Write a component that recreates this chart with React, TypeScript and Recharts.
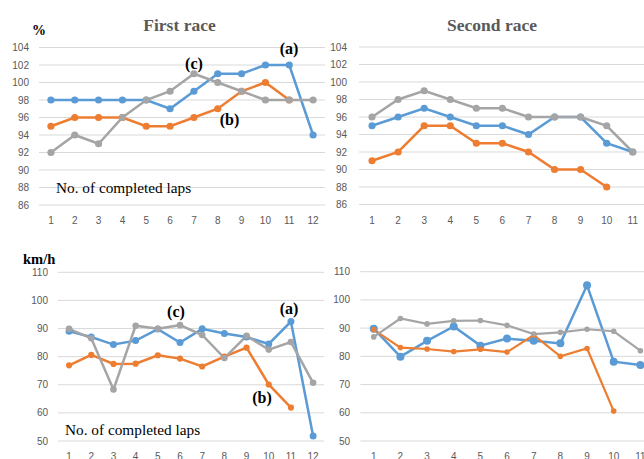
import { CartesianGrid, Line, LineChart, XAxis, YAxis } from "recharts"

const LAPS_FIRST = [1, 2, 3, 4, 5, 6, 7, 8, 9, 10, 11, 12]
const LAPS_SECOND = [1, 2, 3, 4, 5, 6, 7, 8, 9, 10, 11]
const PCT_TICKS = [86, 88, 90, 92, 94, 96, 98, 100, 102, 104]
const SPEED_TICKS = [50, 60, 70, 80, 90, 100, 110]

// (a) blue, (b) orange, (c) gray
const firstPctA = [98, 98, 98, 98, 98, 97, 99, 101, 101, 102, 102, 94]
const firstPctB = [95, 96, 96, 96, 95, 95, 96, 97, 99, 100, 98]
const firstPctC = [92, 94, 93, 96, 98, 99, 101, 100, 99, 98, 98, 98]
const secondPctA = [95, 96, 97, 96, 95, 95, 94, 96, 96, 93, 92]
const secondPctB = [91, 92, 95, 95, 93, 93, 92, 90, 90, 88]
const secondPctC = [96, 98, 99, 98, 97, 97, 96, 96, 96, 95, 92]
const firstSpeedA = [89, 87, 84.3, 85.7, 89.8, 85, 89.9, 88.2, 87, 84.5, 92.5, 51.8]
const firstSpeedB = [76.9, 80.6, 77.4, 77.5, 80.5, 79.3, 76.5, 80, 83.2, 70.1, 61.9]
const firstSpeedC = [89.9, 86.5, 68.3, 91, 89.9, 91.2, 87.7, 79.5, 87.4, 82.5, 85.2, 70.7]
const secondSpeedA = [89.8, 79.9, 85.5, 90.6, 83.8, 86.3, 85.5, 84.6, 105.2, 78.1, 76.9]
const secondSpeedB = [89.5, 83.1, 82.6, 81.7, 82.5, 81.5, 87.5, 80, 82.8, 60.6]
const secondSpeedC = [86.9, 93.4, 91.5, 92.6, 92.7, 91, 87.9, 88.5, 89.6, 88.9, 82]

const BLUE = "#5B9BD5"
const ORANGE = "#ED7D31"
const GRAY = "#A5A5A5"
const TICK = { fontSize: 10, fill: "#595959", fontFamily: "Liberation Sans, Arial, sans-serif" }

function rows(laps: number[], a: number[], b: number[], c: number[]) {
  return laps.map((lap, i) => ({ lap, a: a[i], b: b[i], c: c[i] }))
}

type PanelProps = {
  left: number
  top: number
  width: number
  height: number
  margin: { top: number; right: number; bottom: number; left: number }
  yWidth: number
  yMargin: number
  xHeight: number
  laps: number[]
  yTicks: number[]
  data: { lap: number; a?: number; b?: number; c?: number }[]
  dots: [number, number, number]
  widths: [number, number, number]
}

function Panel(p: PanelProps) {
  const colors = [BLUE, ORANGE, GRAY]
  const keys = ["a", "b", "c"]
  return (
    <div style={{ position: "absolute", left: p.left, top: p.top }}>
      <LineChart width={p.width} height={p.height} data={p.data} margin={p.margin}>
        <CartesianGrid vertical={false} stroke="#D9D9D9" />
        <XAxis
          type="number"
          dataKey="lap"
          domain={[0.5, p.laps.length + 0.5]}
          ticks={p.laps}
          interval={0}
          axisLine={false}
          tickLine={false}
          tickSize={0}
          tickMargin={12}
          height={p.xHeight}
          tick={TICK}
        />
        <YAxis
          domain={[p.yTicks[0], p.yTicks[p.yTicks.length - 1]]}
          ticks={p.yTicks}
          interval={0}
          axisLine={false}
          tickLine={false}
          tickSize={0}
          tickMargin={p.yMargin}
          width={p.yWidth}
          tick={TICK}
        />
        {keys.map((k, i) => (
          <Line
            key={k}
            type="linear"
            dataKey={k}
            stroke={colors[i]}
            strokeWidth={p.widths[i]}
            dot={{ r: p.dots[i], fill: colors[i], stroke: colors[i], strokeWidth: 0 }}
            activeDot={false}
            isAnimationActive={false}
          />
        ))}
      </LineChart>
    </div>
  )
}

const serif = "Liberation Serif, Times New Roman, serif"

export default function App() {
  return (
    <div
      style={{
        position: "absolute",
        left: 0,
        top: 0,
        width: 644,
        height: 459,
        overflow: "hidden",
        background: "#fff",
      }}
    >
      <Panel
        left={0}
        top={0}
        width={330}
        height={230}
        margin={{ top: 47.5, right: 5, bottom: 0, left: 0 }}
        yWidth={39}
        yMargin={10}
        xHeight={25}
        laps={LAPS_FIRST}
        yTicks={PCT_TICKS}
        data={rows(LAPS_FIRST, firstPctA, firstPctB, firstPctC)}
        dots={[3.6, 3.6, 3.6]}
        widths={[2.5, 2.5, 2.5]}
      />
      <Panel
        left={322}
        top={0}
        width={330}
        height={230}
        margin={{ top: 47, right: 6.2, bottom: 0, left: 0 }}
        yWidth={37}
        yMargin={12}
        xHeight={25.5}
        laps={LAPS_SECOND}
        yTicks={PCT_TICKS}
        data={rows(LAPS_SECOND, secondPctA, secondPctB, secondPctC)}
        dots={[3.6, 3.6, 3.6]}
        widths={[2.5, 2.5, 2.5]}
      />
      <Panel
        left={0}
        top={230}
        width={330}
        height={240}
        margin={{ top: 42.3, right: 5.8, bottom: 0, left: 0 }}
        yWidth={58}
        yMargin={10}
        xHeight={29}
        laps={LAPS_FIRST}
        yTicks={SPEED_TICKS}
        data={rows(LAPS_FIRST, firstSpeedA, firstSpeedB, firstSpeedC)}
        dots={[3.5, 3.1, 3.3]}
        widths={[2.5, 2.5, 2.5]}
      />
      <Panel
        left={322}
        top={230}
        width={340}
        height={240}
        margin={{ top: 41.7, right: 8.3, bottom: 0, left: 0 }}
        yWidth={38.4}
        yMargin={10.4}
        xHeight={29}
        laps={LAPS_SECOND}
        yTicks={SPEED_TICKS}
        data={rows(LAPS_SECOND, secondSpeedA, secondSpeedB, secondSpeedC)}
        dots={[4, 2.8, 2.8]}
        widths={[2.5, 2.2, 2.2]}
      />
      <svg
        width={644}
        height={459}
        style={{ position: "absolute", left: 0, top: 0, pointerEvents: "none" }}
      >
        <g fontFamily={serif}>
          <text x={179.5} y={30.7} textAnchor="middle" fontSize={17.5} fontWeight="bold" fill="#595959">
            First race
          </text>
          <text x={492} y={31} textAnchor="middle" fontSize={17.5} fontWeight="bold" fill="#595959">
            Second race
          </text>
          <text x={32} y={35} fontSize={14} fontWeight="bold" fill="#000">
            %
          </text>
          <text x={23} y={264} fontSize={14.5} fontWeight="bold" fill="#000">
            km/h
          </text>
          <text x={289} y={54} textAnchor="middle" fontSize={16} fontWeight="bold" fill="#000">
            (a)
          </text>
          <text x={229.5} y={125} textAnchor="middle" fontSize={16} fontWeight="bold" fill="#000">
            (b)
          </text>
          <text x={194} y={69} textAnchor="middle" fontSize={16} fontWeight="bold" fill="#000">
            (c)
          </text>
          <text x={289} y={314} textAnchor="middle" fontSize={16} fontWeight="bold" fill="#000">
            (a)
          </text>
          <text x={262} y={403} textAnchor="middle" fontSize={16} fontWeight="bold" fill="#000">
            (b)
          </text>
          <text x={176} y={317} textAnchor="middle" fontSize={16} fontWeight="bold" fill="#000">
            (c)
          </text>
          <text x={56} y={193} fontSize={15.3} fill="#000">
            No. of completed laps
          </text>
          <text x={65} y={435} fontSize={15.3} fill="#000">
            No. of completed laps
          </text>
        </g>
      </svg>
    </div>
  )
}
